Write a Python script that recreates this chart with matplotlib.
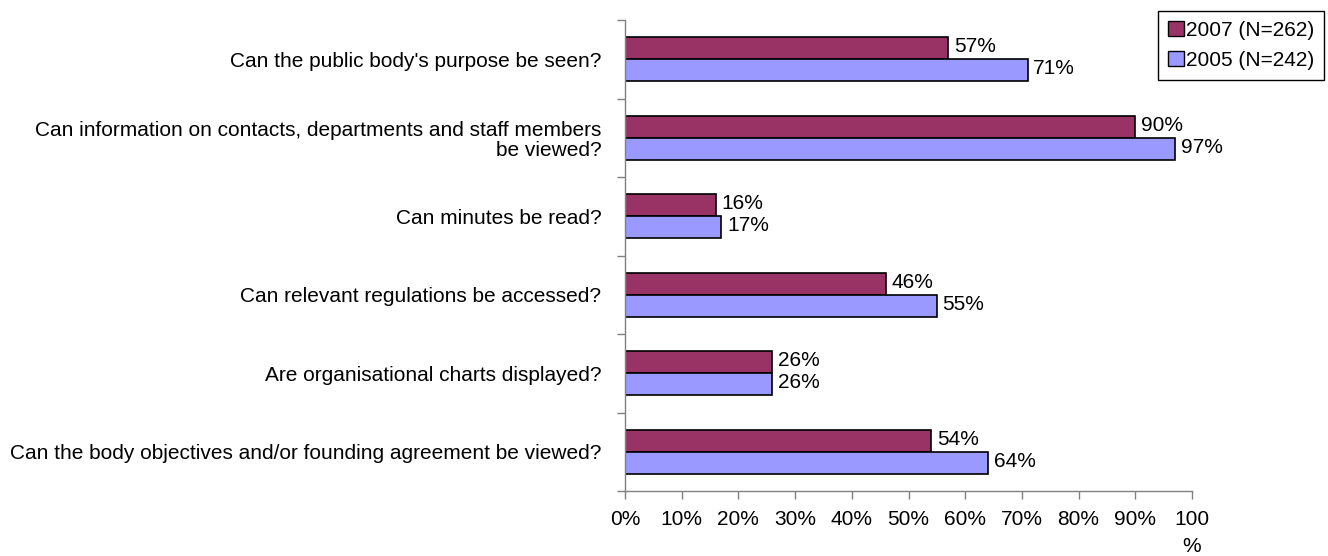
import matplotlib
matplotlib.use("Agg")
import matplotlib.pyplot as plt
from matplotlib.patches import Patch

plt.rcParams["font.family"] = ["Liberation Sans", "DejaVu Sans"]

QUESTIONS = [
    "Can the public body's purpose be seen?",
    "Can information on contacts, departments and staff members\nbe viewed?",
    "Can minutes be read?",
    "Can relevant regulations be accessed?",
    "Are organisational charts displayed?",
    "Can the body objectives and/or founding agreement be viewed?",
]
VALS_2007 = [57, 90, 16, 46, 26, 54]
VALS_2005 = [71, 97, 17, 55, 26, 64]
SERIES = ["2007 (N=262)", "2005 (N=242)"]
XTICKS = [0, 10, 20, 30, 40, 50, 60, 70, 80, 90, 100]
XTICKLABELS = [f"{t}%" for t in XTICKS[:-1]] + ["100\n%"]

C07, C05 = "#993366", "#9999FF"
AXIS_GREY = "#808080"
FS = 15

fig = plt.figure(figsize=(13.28, 5.56), dpi=100)
ax = fig.add_axes([625 / 1328, 1 - 491 / 556, 567 / 1328, 471 / 556])

h = 0.28
ys = list(range(len(QUESTIONS)))
ax.barh([y - h / 2 for y in ys], VALS_2007, height=h, color=C07,
        edgecolor="black", lw=1.2)
ax.barh([y + h / 2 for y in ys], VALS_2005, height=h, color=C05,
        edgecolor="black", lw=1.2)

# value labels just past the bar ends
for y, a, b in zip(ys, VALS_2007, VALS_2005):
    ax.text(a + 1.0, y - h / 2 - 0.02, f"{a}%", va="center", ha="left", fontsize=FS)
    ax.text(b + 1.0, y + h / 2 - 0.02, f"{b}%", va="center", ha="left", fontsize=FS)

ax.set_xlim(0, 100)
ax.set_ylim(len(QUESTIONS) - 0.5, -0.5)

# boundary ticks on the category axis, labels sit on minor ticks
ax.set_yticks([i - 0.5 for i in range(len(QUESTIONS) + 1)])
ax.set_yticklabels([])
ax.set_yticks(ys, minor=True)
ax.set_yticklabels(QUESTIONS, minor=True, fontsize=FS, multialignment="right",
                   linespacing=1.05)
ax.tick_params(axis="y", which="minor", length=0, pad=17)
ax.tick_params(axis="y", which="major", length=5.8, color=AXIS_GREY, width=1)

ax.set_xticks(XTICKS)
ax.set_xticklabels(XTICKLABELS, fontsize=FS, linespacing=1.5)
ax.tick_params(axis="x", length=5.8, color=AXIS_GREY, width=1, pad=8)

for s in ("top", "right"):
    ax.spines[s].set_visible(False)
for s in ("left", "bottom"):
    ax.spines[s].set_color(AXIS_GREY)
    ax.spines[s].set_linewidth(1)

handles = [Patch(facecolor=C07, edgecolor="black", lw=1),
           Patch(facecolor=C05, edgecolor="black", lw=1)]
leg = fig.legend(handles, SERIES, loc="upper right",
                 bbox_to_anchor=(1324 / 1328, 1 - 11 / 556),
                 fontsize=FS, fancybox=False, framealpha=1, edgecolor="black",
                 handlelength=0.75, handleheight=0.75, handletextpad=0.1,
                 borderpad=0.47, labelspacing=0.54, borderaxespad=0)
leg.get_frame().set_linewidth(1)

fig.savefig("out.png", dpi=100)
